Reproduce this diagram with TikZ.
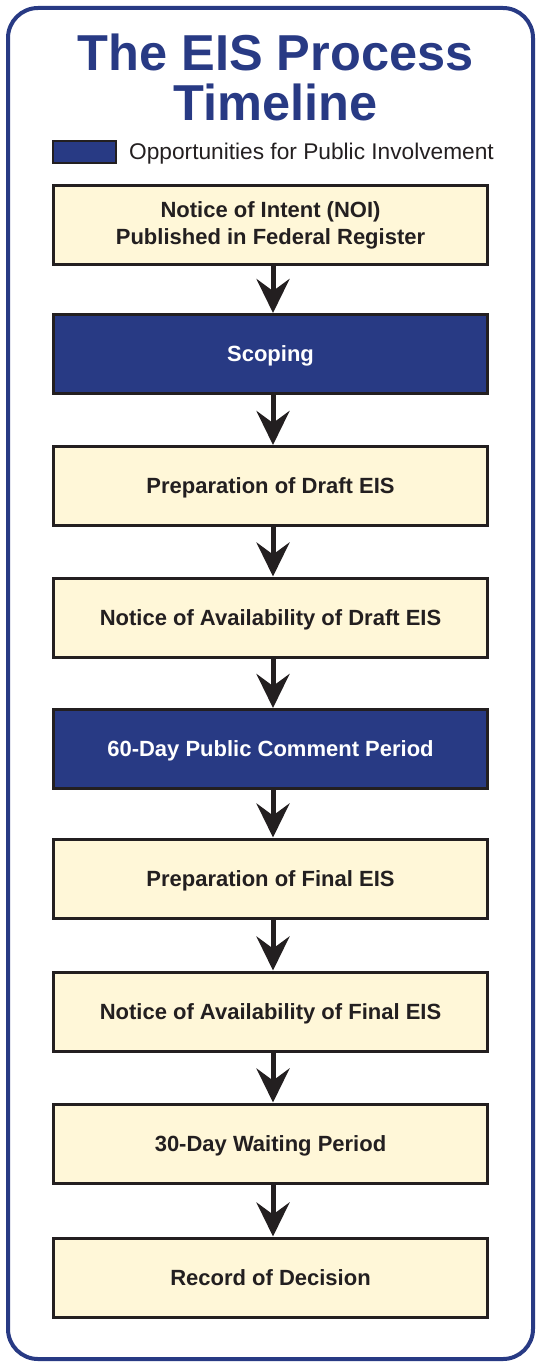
\documentclass[tikz,border=0pt]{standalone}
\usepackage{fontspec}
\setmainfont{Liberation Sans}
\usetikzlibrary{arrows.meta,positioning}

\definecolor{eisnavy}{HTML}{283A84}
\definecolor{eiscream}{HTML}{FFF7D8}
\definecolor{eisink}{HTML}{231F20}

\tikzset{
  box/.style={draw=eisink, line width=3pt, fill=eiscream, text=eisink,
    minimum width=434pt, minimum height=79pt, inner sep=0pt, align=center,
    font=\fontsize{22}{27}\selectfont\bfseries},
  stage/.style={box, text height=15.75pt, text depth=0pt},
  public/.style={stage, fill=eisnavy, text=white},
  flow/.style={-{Stealth[length=34pt,width=33pt,inset=12pt]}, line width=5pt, eisink}
}

\begin{document}
\begin{tikzpicture}[x=1pt,y=-1pt]
\useasboundingbox (0,0) rectangle (537,1362);
% outer frame
\draw[eisnavy, line width=4pt, rounded corners=30pt] (8,8) rectangle (533,1359);

\node[eisnavy, align=center, font=\fontsize{50.5}{50}\selectfont\bfseries] (title) at (275.5,77) {The EIS Process\\Timeline};

% legend
\node[draw=eisink, line width=2pt, fill=eisnavy, minimum width=63pt, minimum height=22pt, inner sep=0pt] (key) at (84.5,152.3) {};
\node[anchor=base west, inner sep=0pt, text=eisink, font=\fontsize{22.7}{27}\selectfont] (keytext) at (129,159.3) {Opportunities for Public Involvement};

% the stages, top to bottom
\foreach \y/\name/\kind/\txt in {225/noi/box/{Notice of Intent (NOI)\\Published in Federal Register},
  354/scoping/public/{Scoping}, 486/draft/stage/{Preparation of Draft EIS},
  617.5/noadraft/stage/{Notice of Availability of Draft EIS},
  749/comment/public/{60-Day Public Comment Period}, 878.5/final/stage/{Preparation of Final EIS},
  1011.5/noafinal/stage/{Notice of Availability of Final EIS},
  1143.5/waiting/stage/{30-Day Waiting Period}, 1277.5/rod/stage/{Record of Decision}}
  \node[\kind] (\name) at (270.5,\y) {\txt};

% connect the stages
\foreach \source/\dest in {noi/scoping, scoping/draft, draft/noadraft, noadraft/comment,
  comment/final, final/noafinal, noafinal/waiting, waiting/rod}
  \draw[flow] ([xshift=2.5pt]\source.south) -- ([xshift=2.5pt]\dest.north);
\end{tikzpicture}
\end{document}
